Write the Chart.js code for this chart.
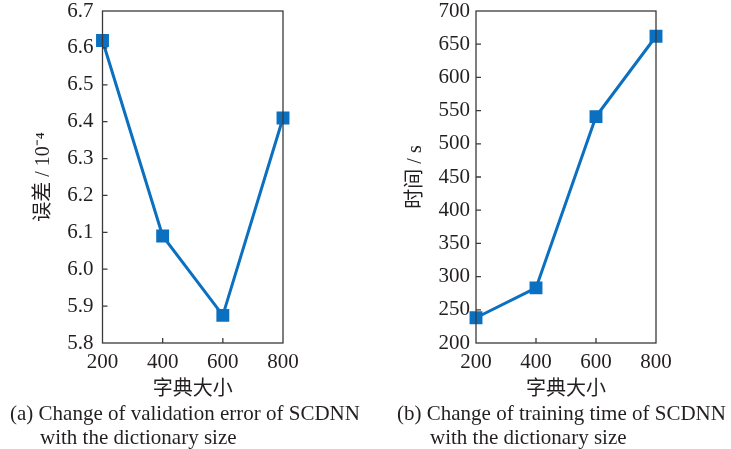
<!DOCTYPE html>
<html>
<head>
<meta charset="utf-8">
<script src="https://cdn.jsdelivr.net/npm/chart.js@4"></script>
<style>
  body { margin: 0; background: #fff; width: 731px; height: 449px; position: relative; overflow: hidden; }
  .box { position: absolute; top: 0; }
  .cap { position: absolute; font-family: "Liberation Serif", serif; font-size: 21px; color: #231f20; white-space: nowrap; line-height: 24px; }
</style>
</head>
<body>
<div class="box" style="left:0;width:365px;height:403px"><canvas id="errChart"></canvas></div>
<div class="box" style="left:370px;width:361px;height:403px"><canvas id="timeChart"></canvas></div>
<div class="cap" style="left:10px;top:401px">(a) Change of validation error of SCDNN</div>
<div class="cap" style="left:40px;top:425px">with the dictionary size</div>
<div class="cap" style="left:397px;top:401px">(b) Change of training time of SCDNN</div>
<div class="cap" style="left:430px;top:425px">with the dictionary size</div>
<script>
// dati
const dictSizes = [200, 400, 600, 800];
const errValues = [6.62, 6.09, 5.875, 6.41];
const timeValues = [238, 283, 541, 662];
const xTicks = [200, 400, 600, 800];

const blu = "#0b70c0";
const testo = "#231f20";
const fontNum = { family: "'Liberation Serif', serif", size: 21 };
const fontTitolo = { family: "'Liberation Serif', 'Noto Sans CJK SC', serif", size: 20 };

// cornice + tacche verso l'interno
const cornice = {
  id: "cornice",
  afterDraw(chart) {
    const { ctx, chartArea: a, scales } = chart;
    ctx.save();
    ctx.strokeStyle = "#3a3a3a";
    ctx.lineWidth = 1.3;
    ctx.strokeRect(a.left, a.top, a.right - a.left, a.bottom - a.top);
    ctx.beginPath();
    scales.y.ticks.forEach(t => {
      const y = scales.y.getPixelForValue(t.value);
      if (y > a.top + 1 && y < a.bottom - 1) { ctx.moveTo(a.left, y); ctx.lineTo(a.left + 5, y); }
    });
    scales.x.ticks.forEach(t => {
      const x = scales.x.getPixelForValue(t.value);
      if (x > a.left + 1 && x < a.right - 1) { ctx.moveTo(x, a.bottom); ctx.lineTo(x, a.bottom - 5); }
    });
    ctx.stroke();
    ctx.restore();
  }
};

function creaGrafico(id, valori, yMin, yMax, yStep, yTitolo, yWidth, titoloPad, padRight, yPad, decimali) {
  let c = Chart.getChart(id);
  if (c !== undefined) c.destroy();
  return new Chart(document.getElementById(id), {
    type: "line",
    data: {
      datasets: [{
        data: dictSizes.map((x, i) => ({ x: x, y: valori[i] })),
        borderColor: blu,
        backgroundColor: blu,
        borderWidth: 3,
        pointStyle: "rect",
        pointRadius: 7,
        pointHoverRadius: 7,
        tension: 0,
        clip: false
      }]
    },
    options: {
      responsive: true,
      maintainAspectRatio: false,
      animation: false,
      layout: { padding: { top: 11, right: padRight, left: 0, bottom: 0 } },
      plugins: { legend: { display: false }, tooltip: { enabled: false } },
      scales: {
        x: {
          type: "linear",
          min: 200, max: 800,
          afterBuildTicks: s => { s.ticks = xTicks.map(v => ({ value: v })); },
          grid: { display: false, drawTicks: false },
          border: { display: false },
          ticks: { color: testo, font: fontNum, padding: 7, maxRotation: 0 },
          title: { display: true, text: "字典大小", color: testo, font: fontTitolo, padding: { top: 0, bottom: 1 } },
          afterFit: s => { s.height = 60; s.paddingLeft = 0; s.paddingRight = 0; }
        },
        y: {
          min: yMin, max: yMax,
          grid: { display: false, drawTicks: false },
          border: { display: false },
          ticks: {
            stepSize: yStep, color: testo, font: fontNum, padding: yPad,
            callback: v => v.toFixed(decimali)
          },
          title: { display: true, text: yTitolo, color: testo, font: fontTitolo, padding: { top: titoloPad, bottom: 0 } },
          afterFit: s => { s.width = yWidth; s.paddingTop = 0; s.paddingBottom = 0; }
        }
      }
    },
    plugins: [cornice]
  });
}

creaGrafico("errChart", errValues, 5.8, 6.7, 0.1, "误差 / 10⁻⁴", 102.5, 32, 82, 9, 1);
creaGrafico("timeChart", timeValues, 200, 700, 50, "时间 / s", 106, 34, 75, 6, 0);
</script>
</body>
</html>
